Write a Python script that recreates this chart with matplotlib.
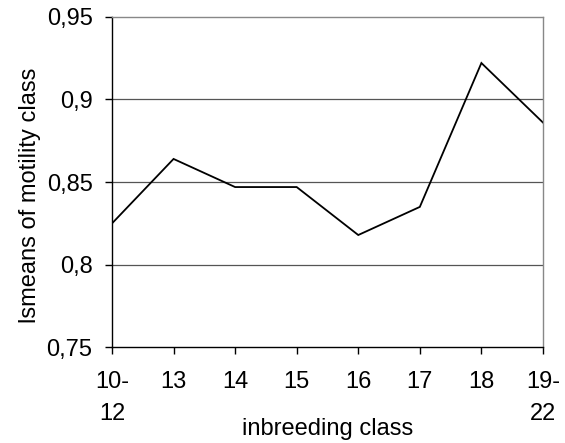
import matplotlib
matplotlib.use("Agg")
import matplotlib.pyplot as plt
import numpy as np

plt.rcParams['font.family'] = ['Liberation Sans', 'DejaVu Sans']

# data
classes = ['10-\n12', '13', '14', '15', '16', '17', '18', '19-\n22']
lsmeans = [0.825, 0.864, 0.847, 0.847, 0.818, 0.835, 0.922, 0.886]
yticks = [0.75, 0.80, 0.85, 0.90, 0.95]
ytick_labels = ['0,75', '0,8', '0,85', '0,9', '0,95']

fig = plt.figure(figsize=(5.65, 4.43), dpi=100)
ax = fig.add_axes([0.1982, 0.2156, 0.7628, 0.7467])

x = np.arange(len(classes))
ax.plot(x, lsmeans, color='black', lw=1.3, solid_joinstyle='miter')

ax.set_xlim(0, len(classes) - 1)
ax.set_ylim(0.75, 0.95)
ax.set_yticks(yticks)
ax.set_yticklabels(ytick_labels)
ax.set_xticks(x)
ax.set_xticklabels(classes, linespacing=1.6)

# horizontal gridlines only
for yv in yticks[1:-1]:
    ax.axhline(yv, color='#555555', lw=0.9, zorder=0)

for side in ['top', 'right']:
    ax.spines[side].set_color('#888888')
for side in ['left', 'bottom']:
    ax.spines[side].set_color('black')
for s in ax.spines.values():
    s.set_linewidth(1.0)

ax.tick_params(axis='y', direction='out', length=5, width=1.0, pad=9, labelsize=17)
ax.tick_params(axis='x', direction='out', length=5, width=1.0, pad=12, labelsize=17)

ax.set_xlabel('inbreeding class', fontsize=17)
ax.xaxis.set_label_coords(0.5, -0.213)
ax.set_ylabel('lsmeans of motility class', fontsize=17)
ax.yaxis.set_label_coords(-0.165, 0.46)

fig.savefig('out.png', dpi=100)
